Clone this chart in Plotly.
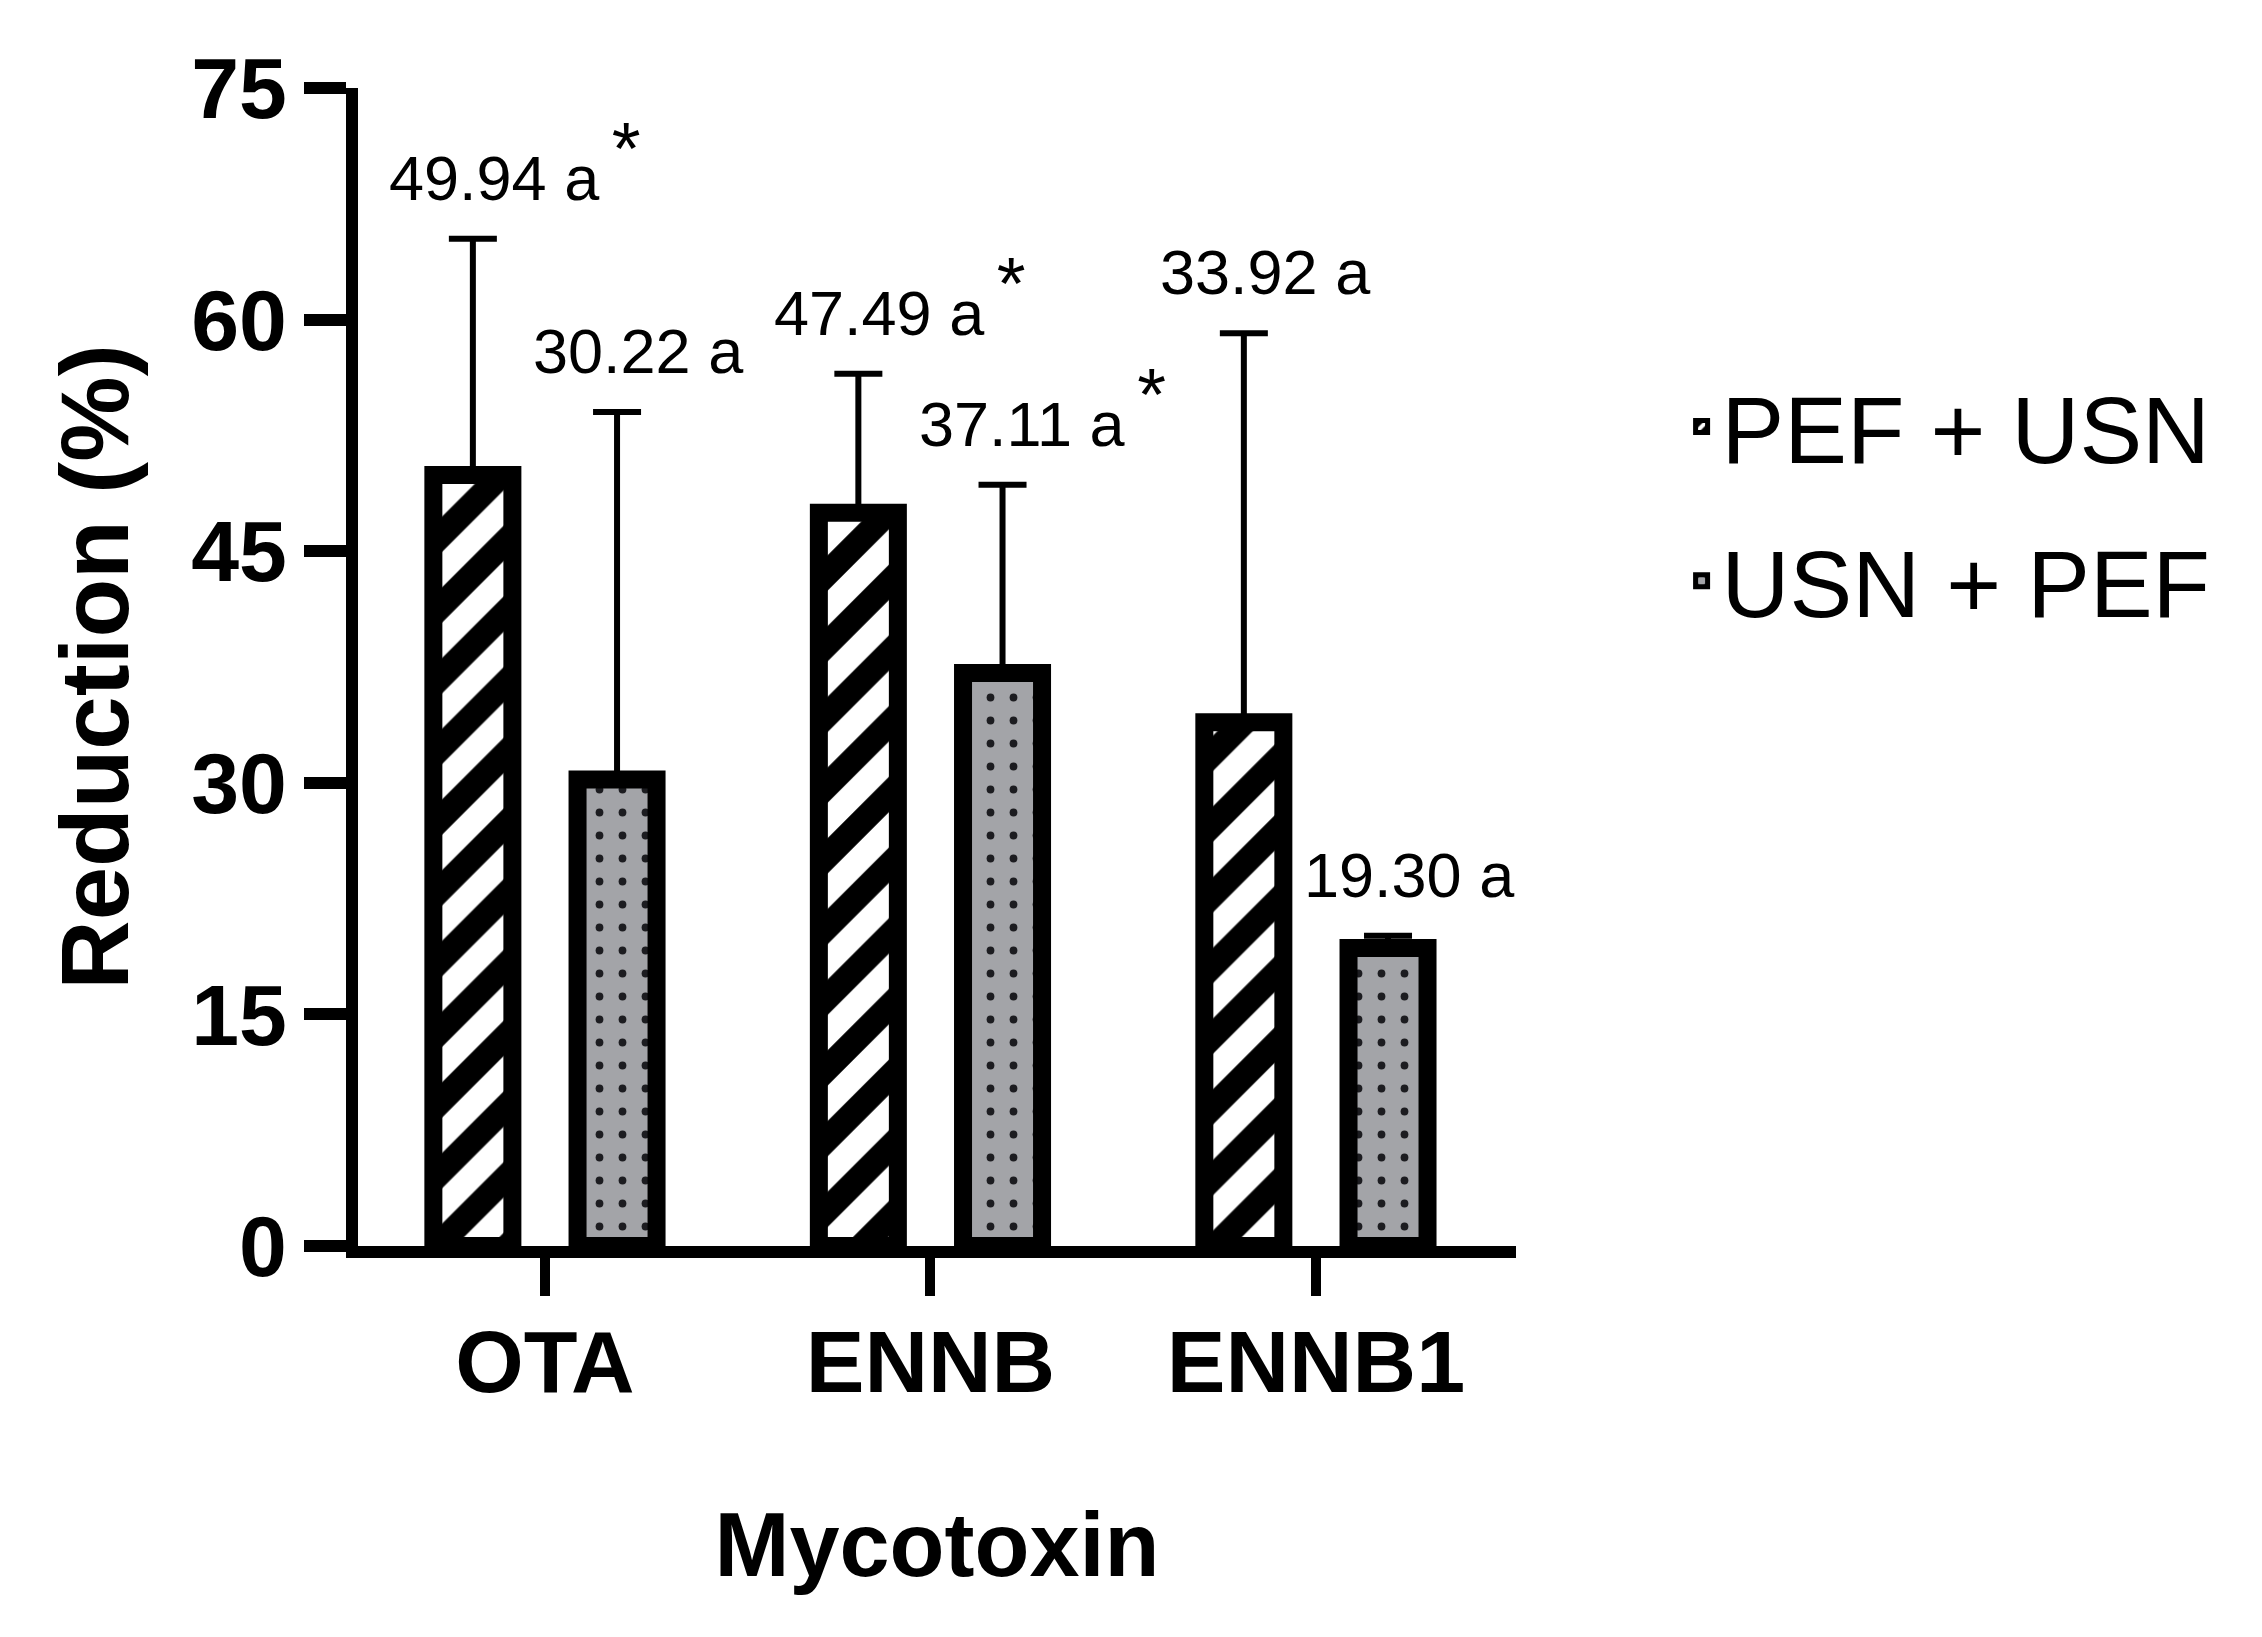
import plotly.graph_objects as go

# Data
mycotoxins = ["OTA", "ENNB", "ENNB1"]

pef_usn = [49.94, 47.49, 33.92]
pef_usn_sd = [15.3, 9.0, 25.2]
pef_usn_letters = ["a", "a", "a"]
pef_usn_star = [True, True, False]

usn_pef = [30.22, 37.11, 19.30]
usn_pef_sd = [23.8, 12.2, 0.8]
usn_pef_letters = ["a", "a", "a"]
usn_pef_star = [False, True, False]

y_ticks = [0, 15, 30, 45, 60, 75]

FONT = "Liberation Sans, Arial, sans-serif"
GRAY = "#a3a4a8"

fig = go.Figure()

# PEF + USN: black bars with white diagonal stripes
fig.add_trace(go.Bar(
    x=mycotoxins,
    y=pef_usn,
    name="PEF + USN",
    legendgroup="g1",
    marker=dict(
        color="black",
        line=dict(color="black", width=18),
        pattern=dict(shape="/", fgcolor="white", bgcolor="black",
                     fgopacity=1, size=50, solidity=0.5),
    ),
    error_y=dict(type="data", array=pef_usn_sd, arrayminus=[0] * len(pef_usn_sd),
                 symmetric=False, color="black", thickness=6, width=24),
))

# USN + PEF: grey bars with dark dots
fig.add_trace(go.Bar(
    x=mycotoxins,
    y=usn_pef,
    name="USN + PEF",
    legendgroup="g2",
    marker=dict(
        color=GRAY,
        line=dict(color="black", width=18),
        pattern=dict(shape=".", fgcolor="#1c1c20", bgcolor=GRAY,
                     fgopacity=1, size=23, solidity=0.09),
    ),
    error_y=dict(type="data", array=usn_pef_sd, arrayminus=[0] * len(usn_pef_sd),
                 symmetric=False, color="black", thickness=6, width=24),
))

# Value labels above the error bars
def add_labels(values, sds, letters, stars, offset):
    for i, (v, sd, let, star) in enumerate(zip(values, sds, letters, stars)):
        text = f"{v:.2f} {let}"
        if star:
            text += "\u2009<sup><span style='font-size:74px'>*</span></sup>"
        fig.add_annotation(
            x=i + offset, y=v + sd, xref="x", yref="y",
            text=text, showarrow=False,
            xanchor="left", yanchor="bottom", xshift=-86, yshift=24,
            font=dict(family=FONT, size=63, color="black"),
        )

add_labels(pef_usn, pef_usn_sd, pef_usn_letters, pef_usn_star, -0.187)
add_labels(usn_pef, usn_pef_sd, usn_pef_letters, usn_pef_star, 0.187)

fig.update_layout(
    width=2262,
    height=1637,
    margin=dict(l=350, r=754, t=80, b=399),
    plot_bgcolor="white",
    paper_bgcolor="white",
    barmode="group",
    bargap=0.252,
    bargroupgap=0.452,
    font=dict(family=FONT, color="black"),
    showlegend=True,
    legend=dict(
        x=1.143, y=0.766, xanchor="left", yanchor="top",
        font=dict(family=FONT, size=94, color="black"),
        tracegroupgap=29,
        bgcolor="rgba(0,0,0,0)",
    ),
)

fig.update_xaxes(
    type="category",
    range=[-0.485, 2.519],
    showline=True, linecolor="black", linewidth=12,
    ticks="outside", ticklen=38, tickwidth=10, tickcolor="black",
    ticklabelstandoff=-10,
    tickfont=dict(family=FONT, size=88, weight="bold", color="black"),
    showgrid=False, zeroline=False,
    title=dict(text="Mycotoxin", standoff=108,
               font=dict(family=FONT, size=90, weight="bold", color="black")),
)

fig.update_yaxes(
    range=[0, 75],
    tickvals=y_ticks,
    showline=True, linecolor="black", linewidth=12,
    ticks="outside", ticklen=42, tickwidth=12, tickcolor="black",
    tickfont=dict(family=FONT, size=86, weight="bold", color="black"),
    showgrid=False, zeroline=False,
    title=dict(text="Reduction (%)", standoff=36,
               font=dict(family=FONT, size=96, weight="bold", color="black")),
)

fig.write_html("out.html")
